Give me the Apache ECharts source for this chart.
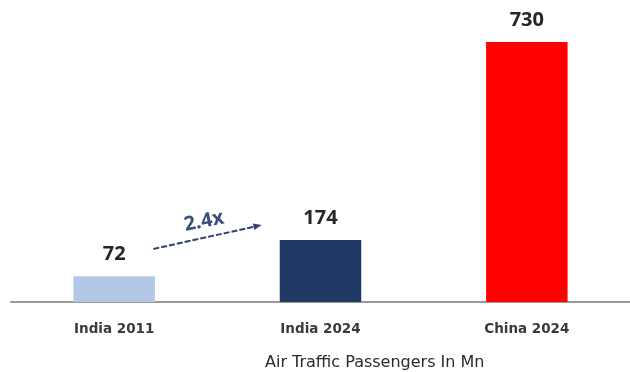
<!DOCTYPE html>
<html>
<head>
<meta charset="utf-8">
<style>
  html, body { margin: 0; padding: 0; background: #fff; }
  #chart { width: 630px; height: 372px; }
</style>
<script src="https://cdn.jsdelivr.net/npm/echarts@6/dist/echarts.min.js"></script>
</head>
<body>
<div id="chart"></div>
<script>
// Air traffic passengers, millions
const categories = ['India 2011', 'India 2024', 'China 2024'];
const passengers = [72, 174, 730];
const barColors = ['#b4c7e7', '#1f3864', '#ff0000'];
const growthLabel = '2.4x';
const axisTitle = 'Air Traffic Passengers In Mn';

const chart = echarts.init(document.getElementById('chart'));

chart.setOption({
  animation: false,
  title: {
    text: axisTitle,
    left: 265,
    top: 355,
    padding: 0,
    textStyle: { fontFamily: 'DejaVu Sans', fontSize: 16, fontWeight: 'normal', color: '#2a2a2a' }
  },
  grid: { left: 11, width: 623, top: 17, bottom: 70 },
  xAxis: {
    type: 'category',
    data: categories,
    axisLine: { lineStyle: { color: '#9a9a9a', width: 2 } },
    axisTick: { show: false },
    axisLabel: { fontFamily: 'DejaVu Sans', fontSize: 13.5, fontWeight: 'bold', color: '#3a3a3a', margin: 20 }
  },
  yAxis: {
    type: 'value',
    min: 0,
    max: 800,
    show: false,
    splitLine: { show: false }
  },
  series: [{
    type: 'bar',
    barWidth: '39.5%',
    data: passengers.map((v, i) => ({ value: v, itemStyle: { color: barColors[i] } })),
    label: {
      show: true,
      position: 'top',
      distance: 12,
      fontFamily: 'Open Sans',
      fontSize: 20,
      fontWeight: 700,
      color: '#262626'
    }
  }]
});

// Growth arrow between the two India bars, placed in data space
function toPx(catPos, value) {
  const a = chart.convertToPixel({ gridIndex: 0 }, [0, value]);
  const b = chart.convertToPixel({ gridIndex: 0 }, [1, value]);
  return [a[0] + (b[0] - a[0]) * catPos, a[1]];
}
const start = toPx(0.19, 149);
const end = toPx(0.715, 216);
const angle = Math.atan2(end[1] - start[1], end[0] - start[0]);
const head = 9;
const textPos = toPx(0.435, 226);

chart.setOption({
  graphic: [
    {
      type: 'line',
      shape: { x1: start[0], y1: start[1], x2: end[0] - Math.cos(angle) * 5, y2: end[1] - Math.sin(angle) * 5 },
      style: { stroke: '#2f4270', lineWidth: 2, lineDash: [6, 2] }
    },
    {
      type: 'polygon',
      shape: {
        points: [
          end,
          [end[0] - head * Math.cos(angle - 0.38), end[1] - head * Math.sin(angle - 0.38)],
          [end[0] - head * Math.cos(angle + 0.38), end[1] - head * Math.sin(angle + 0.38)]
        ]
      },
      style: { fill: '#2f4270' }
    },
    {
      type: 'text',
      x: textPos[0],
      y: textPos[1],
      rotation: 0.2,
      style: {
        text: growthLabel,
        fontFamily: 'Open Sans',
        fontSize: 20,
        fontWeight: 700,
        fill: '#3a4e7c',
        align: 'center',
        verticalAlign: 'middle'
      }
    }
  ]
});
</script>
</body>
</html>
